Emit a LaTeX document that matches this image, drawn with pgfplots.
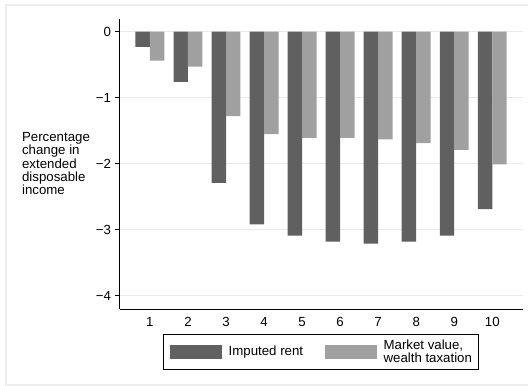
\documentclass[border=0pt]{standalone}
\usepackage{pgfplots}
\pgfplotsset{compat=1.18}
\usepackage{fontspec}
\setmainfont{Liberation Sans}
\definecolor{darkbar}{RGB}{96,96,96}
\definecolor{lightbar}{RGB}{160,160,160}
\definecolor{gridc}{RGB}{234,234,234}
\definecolor{framec}{RGB}{238,238,238}
\begin{document}
\begin{tikzpicture}
\draw[framec, line width=1.2bp] (6bp,1bp) rectangle (540bp,381bp);
\begin{axis}[
  at={(119.5bp,77.1bp)}, anchor=south west,
  scale only axis, width=403.2bp, height=290.4bp,
  font=\fontsize{13.3}{13.4}\selectfont,
  xmin=0.2, xmax=10.8, ymin=-4.2, ymax=0.2,
  axis x line*=bottom, axis y line*=left,
  axis line style={black, line width=0.8bp},
  xtick={1,2,3,4,5,6,7,8,9,10},
  xticklabels={1,2,3,4,5,6,7,8,9,10},
  x tick style={draw=none},
  ytick={-4,-3,-2,-1,0},
  yticklabels={−4,−3,−2,−1,0},
  y tick style={black, line width=0.8bp},
  tick align=outside, major tick length=5bp,
  ymajorgrids, grid style={gridc, line width=0.9bp},
  ybar, bar width=0.38,
  ylabel={Percentage\\change in\\extended\\disposable\\income},
  ylabel style={rotate=-90, align=left, anchor=west, inner sep=0pt,
    at={(axis description cs:-0.242,0.5)}},
  every axis plot post/.append style={
    legend image code/.code={\fill[##1, draw=none] (0bp,-7bp) rectangle (51.5bp,7bp);}},
  legend columns=2,
  legend style={at={(0.5,-0.0881)}, anchor=north, draw=black, line width=0.8bp,
    inner xsep=6.5bp, inner ysep=5bp,
    cells={anchor=west},
    nodes={inner sep=0pt, align=left, font=\fontsize{13.3}{13}\selectfont},
    /tikz/every odd column/.append style={column sep=7bp},
    /tikz/every even column/.append style={column sep=22bp}},
]
\addplot[fill=darkbar, draw=none, bar shift=-0.19] coordinates {
  (1,-0.23) (2,-0.76) (3,-2.29) (4,-2.92) (5,-3.09)
  (6,-3.18) (7,-3.21) (8,-3.18) (9,-3.09) (10,-2.69)};
\addlegendentry{Imputed rent}
\addplot[fill=lightbar, draw=none, bar shift=0.19] coordinates {
  (1,-0.44) (2,-0.53) (3,-1.28) (4,-1.55) (5,-1.61)
  (6,-1.61) (7,-1.63) (8,-1.69) (9,-1.79) (10,-2.01)};
\addlegendentry{Market value,\\wealth taxation}
\end{axis}
\pgfresetboundingbox
\path[use as bounding box] (0,0) rectangle (528bp,386bp);
\end{tikzpicture}
\end{document}
